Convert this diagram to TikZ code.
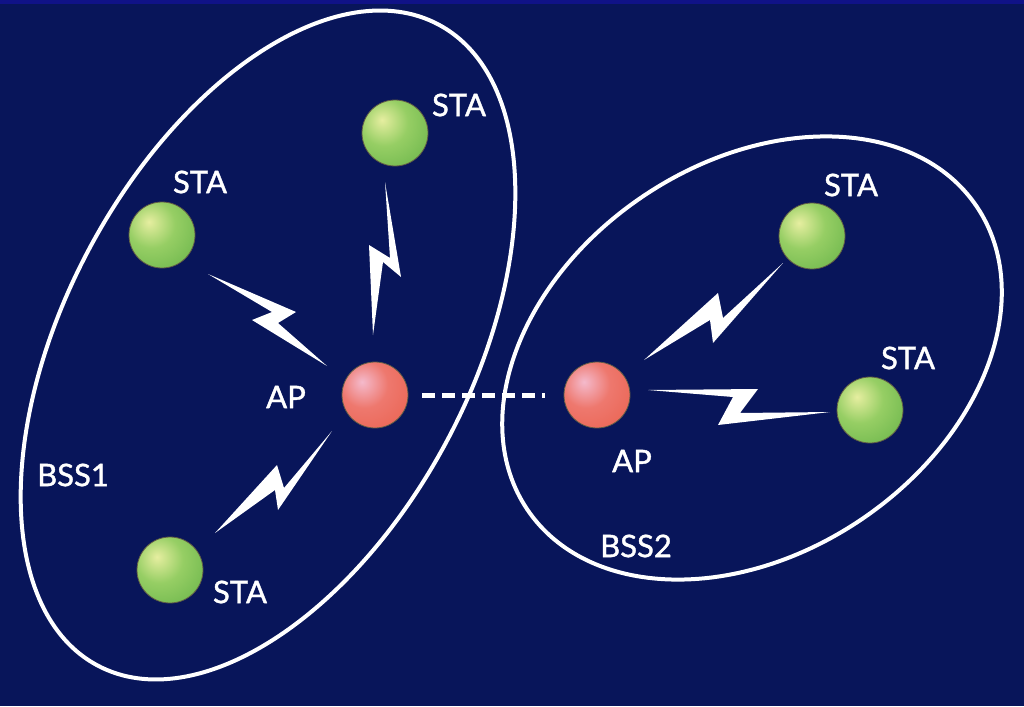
\documentclass[tikz,border=0pt]{standalone}
\usepackage{fontspec}
\setmainfont{Lato}
\newfontfamily\lblfont[FakeBold=1.3]{Lato}
\usepackage{tikz}

\definecolor{bgnavy}{RGB}{8,21,90}
\definecolor{topband}{RGB}{16,18,135}
\definecolor{greenlight}{RGB}{230,238,160}
\definecolor{greenmid}{RGB}{150,206,100}
\definecolor{greendark}{RGB}{88,170,64}
\definecolor{redlight}{RGB}{244,186,204}
\definecolor{redmid}{RGB}{238,120,110}
\definecolor{reddark}{RGB}{232,90,68}
\definecolor{ballrim}{RGB}{96,92,70}

\pgfdeclareradialshading{greenball}{\pgfpoint{-10bp}{10bp}}{color(0bp)=(greenlight); color(18bp)=(greenmid); color(52bp)=(greendark); color(100bp)=(greendark)}
\pgfdeclareradialshading{redball}{\pgfpoint{-10bp}{10bp}}{color(0bp)=(redlight); color(18bp)=(redmid); color(52bp)=(reddark); color(100bp)=(reddark)}

\tikzset{
  sta/.style={circle, minimum size=66pt, inner sep=0pt, shading=greenball, draw=ballrim, line width=0.8pt},
  ap/.style={circle, minimum size=66pt, inner sep=0pt, shading=redball, draw=ballrim, line width=0.8pt},
  lbl/.style={text=white, font=\lblfont\fontsize{31}{36}\selectfont, inner sep=0pt},
  bss/.style={draw=white, line width=4pt},
  bolt/.style={fill=white, draw=none},
  link/.style={draw=white, line width=5pt, dash pattern=on 13pt off 7pt}
}

\begin{document}
\begin{tikzpicture}[x=1pt,y=-1pt]
    % backdrop
    \fill[bgnavy] (0,0) rectangle (1024,706);
    \fill[topband] (0,0) rectangle (1024,4);
    \useasboundingbox (0,0) rectangle (1024,706);

    % the two service sets
    \draw[bss] (268,345) ellipse [x radius=363, y radius=203, rotate=62];
    \draw[bss] (752,358) ellipse [x radius=271, y radius=195, rotate=34];

    % stations and access points
    \node[sta] (sta1) at (395,133) {};
    \node[sta] (sta2) at (162,235) {};
    \node[sta] (sta3) at (170,570) {};
    \node[sta] (sta4) at (812,236) {};
    \node[sta] (sta5) at (870,410) {};
    \node[ap] (ap1) at (375,395) {};
    \node[ap] (ap2) at (597,395) {};

    \node[lbl] (l1) at (459,105) {STA};
    \node[lbl] (l2) at (200,182) {STA};
    \node[lbl] (l3) at (240,592) {STA};
    \node[lbl] (l4) at (851,185) {STA};
    \node[lbl] (l5) at (908,358) {STA};
    \node[lbl] (la1) at (286,397) {AP};
    \node[lbl] (la2) at (632,461) {AP};
    \node[lbl] (lb1) at (73,475) {BSS1};
    \node[lbl] (lb2) at (636,546) {BSS2};

    % wired link between the access points
    \draw[link, shorten <=14pt, shorten >=19pt] (ap1.east) -- (ap2.west);

    % radio links
    \fill[bolt] (208,274) -- (296,312) -- (278,323) -- (327,366) -- (252,320) -- (272,312) -- cycle;
    \fill[bolt] (385,182) -- (401,277) -- (383,262) -- (373,335) -- (369,245) -- (390,258) -- cycle;
    \fill[bolt] (332,431) -- (278,510) -- (275,490) -- (215,533) -- (277,465) -- (284,488) -- cycle;
    \fill[bolt] (783,263) -- (713,343) -- (710,320) -- (644,360) -- (718,293) -- (723,318) -- cycle;
    \fill[bolt] (648,390) -- (758,389) -- (740,413) -- (830,412) -- (718,425) -- (733,397) -- cycle;
\end{tikzpicture}
\end{document}
